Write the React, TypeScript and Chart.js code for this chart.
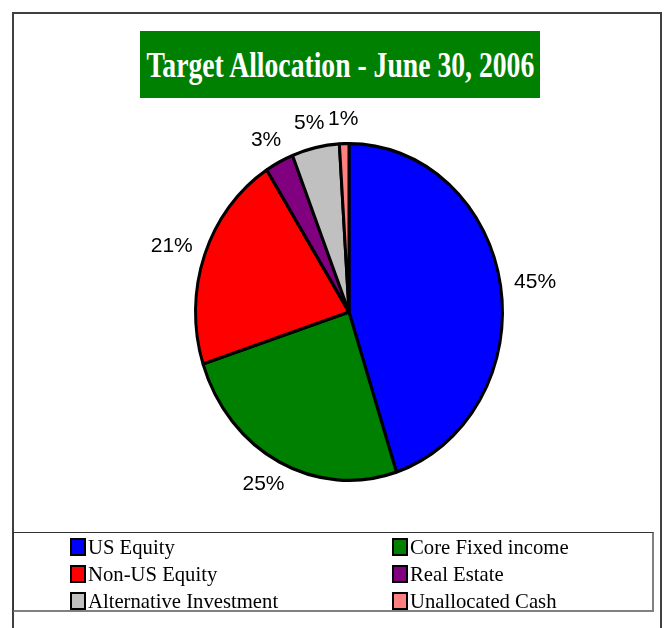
import React, { useEffect, useRef, useLayoutEffect, useState } from "react";
import { Chart, registerables } from "chart.js";

Chart.register(...registerables);

const TITLE = "Target Allocation - June 30, 2006";
const CATEGORIES = [
  "US Equity",
  "Core Fixed income",
  "Non-US Equity",
  "Real Estate",
  "Alternative Investment",
  "Unallocated Cash",
];
const VALUES = [45, 25, 21, 3, 5, 1];
const COLORS = ["#0000FF", "#008000", "#FF0000", "#800080", "#C0C0C0", "#FF8080"];

const W = 667;
const H = 628;
const Y_STRETCH = 170 / 155;
const BORDER_W = 3;

const ellipsePlugin = {
  id: "ellipsePie",
  beforeDatasetsDraw(chart: any) {
    const a = chart.getDatasetMeta(0).data[0];
    if (!a) return;
    const ctx = chart.ctx;
    ctx.save();
    ctx.translate(a.x, a.y);
    ctx.scale(1, Y_STRETCH);
    ctx.translate(-a.x, -a.y);
  },
  afterDatasetsDraw(chart: any) {
    const ctx = chart.ctx;
    ctx.restore();
    const meta = chart.getDatasetMeta(0);
    const data = chart.data.datasets[0].data as number[];
    const total = data.reduce((s, v) => s + v, 0);
    ctx.save();
    ctx.font = "21px 'Liberation Sans', Arial, sans-serif";
    ctx.fillStyle = "#000";
    ctx.textAlign = "center";
    ctx.textBaseline = "middle";
    meta.data.forEach((arc: any, i: number) => {
      const txt = Math.round((data[i] / total) * 100) + "%";
      const tw = ctx.measureText(txt).width;
      const th = 19;
      const mid = (arc.startAngle + arc.endAngle) / 2;
      const R = arc.outerRadius + BORDER_W / 2;
      const k = 1.08;
      const c = Math.cos(mid);
      const s = Math.sin(mid);
      const x = arc.x + c * R * k + c * tw / 2;
      const y = arc.y + s * R * Y_STRETCH * k + s * th / 2;
      ctx.fillText(txt, x, y);
    });
    ctx.restore();
  },
};

function Title() {
  const ref = useRef<HTMLSpanElement>(null);
  const [sx, setSx] = useState(1);
  useLayoutEffect(() => {
    if (ref.current) {
      const w = ref.current.offsetWidth;
      if (w > 0) setSx(388 / w);
    }
  }, []);
  return (
    <div
      style={{
        position: "absolute",
        left: 140,
        top: 31,
        width: 400,
        height: 67,
        background: "#008000",
        display: "flex",
        alignItems: "center",
        justifyContent: "center",
        overflow: "hidden",
      }}
    >
      <span
        ref={ref}
        style={{
          display: "inline-block",
          whiteSpace: "nowrap",
          color: "#fff",
          fontFamily: "'Liberation Serif', 'Times New Roman', serif",
          fontWeight: "bold",
          fontSize: 36,
          lineHeight: "36px",
          transform: `scaleX(${sx})`,
          transformOrigin: "center",
        }}
      >
        {TITLE}
      </span>
    </div>
  );
}

function Legend() {
  const colX = [70, 392];
  const rowY = [547, 574, 601];
  return (
    <div
      style={{
        position: "absolute",
        left: 13,
        top: 532,
        width: 641,
        height: 80,
        boxSizing: "border-box",
        borderTop: "1px solid #333",
        borderLeft: "1px solid #333",
        borderRight: "2px solid #808080",
        borderBottom: "2px solid #808080",
      }}
    >
      {CATEGORIES.map((c, i) => {
        const col = i % 2;
        const row = Math.floor(i / 2);
        return (
          <div
            key={c}
            style={{
              position: "absolute",
              left: colX[col] - 14,
              top: rowY[row] - 533 - 12,
              height: 24,
              display: "flex",
              alignItems: "center",
              whiteSpace: "nowrap",
            }}
          >
            <span
              style={{
                display: "inline-block",
                width: 16,
                height: 18,
                boxSizing: "border-box",
                border: "2.5px solid #000",
                background: COLORS[i],
                marginRight: 2,
              }}
            />
            <span
              style={{
                fontFamily: "'Liberation Serif', 'Times New Roman', serif",
                fontSize: 20.7,
                color: "#000",
                lineHeight: "24px",
              }}
            >
              {c}
            </span>
          </div>
        );
      })}
    </div>
  );
}

export default function App() {
  const canvasRef = useRef<HTMLCanvasElement>(null);

  useEffect(() => {
    if (!canvasRef.current) return;
    const chart = new Chart(canvasRef.current, {
      type: "pie",
      data: {
        labels: CATEGORIES,
        datasets: [
          {
            data: VALUES,
            backgroundColor: COLORS,
            borderColor: "#000",
            borderWidth: BORDER_W,
            clip: false as any,
          },
        ],
      },
      options: {
        responsive: false,
        animation: false,
        rotation: 0,
        layout: { padding: { left: 194, right: 163, top: 157, bottom: 161 } },
        plugins: {
          legend: { display: false },
          title: { display: false },
          tooltip: { enabled: false },
        },
      },
      plugins: [ellipsePlugin],
    });
    return () => chart.destroy();
  }, []);

  return (
    <div
      style={{
        position: "absolute",
        left: 0,
        top: 0,
        width: W,
        height: H,
        overflow: "hidden",
        background: "#fff",
      }}
    >
      <canvas
        ref={canvasRef}
        width={W}
        height={H}
        style={{ position: "absolute", left: 0, top: 0, width: W, height: H }}
      />
      <div
        style={{
          position: "absolute",
          left: 12,
          top: 12,
          width: 650,
          height: 700,
          boxSizing: "border-box",
          border: "2px solid #404040",
        }}
      />
      <Title />
      <Legend />
    </div>
  );
}
